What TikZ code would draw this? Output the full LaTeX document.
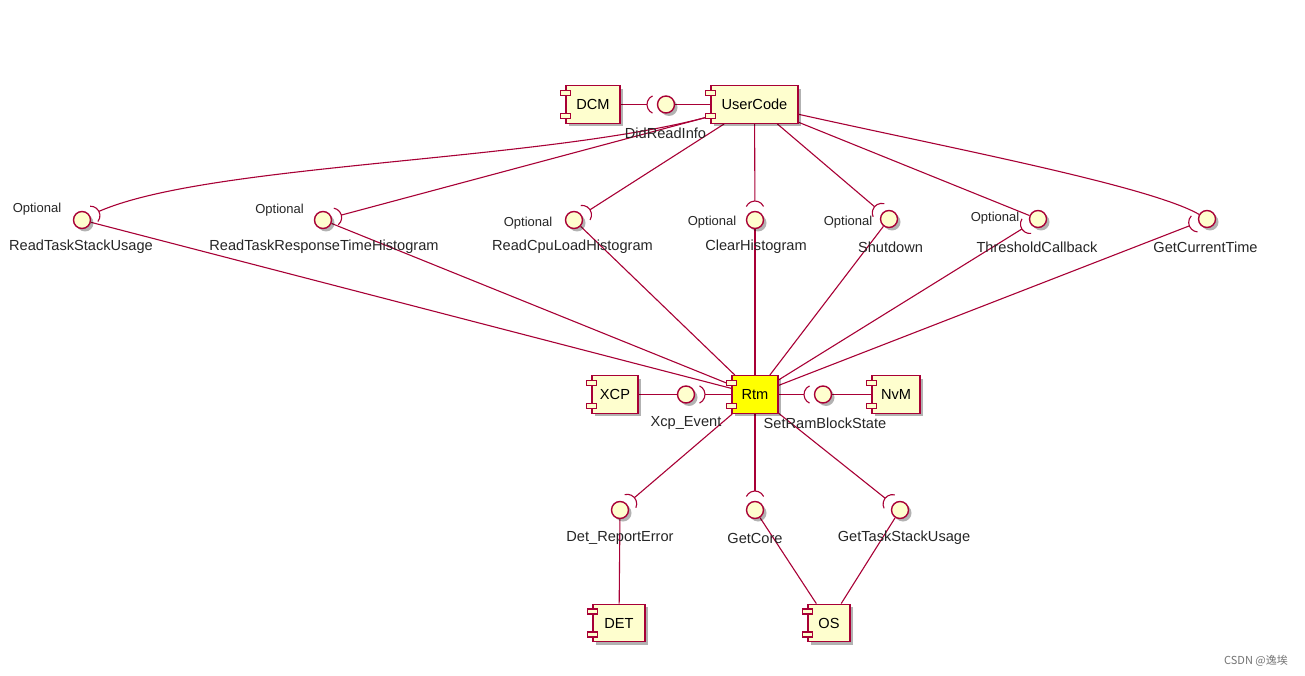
\documentclass[tikz,border=0pt]{standalone}
\usepackage{fontspec}
\setmainfont{Liberation Sans}
\newfontfamily\cjkfont{Noto Sans CJK SC}
\usetikzlibrary{calc,shadows}
\pgfdeclarelayer{background}
\pgfsetlayers{background,main}
\definecolor{pline}{HTML}{A80036}
\definecolor{pfill}{HTML}{FEFECE}
\definecolor{rtmfill}{HTML}{FFFF00}
\tikzset{
  shad/.style={drop shadow={shadow xshift=3pt,shadow yshift=-3pt,opacity=0.3,fill=black}},
  comp/.style={draw=pline,line width=1.4pt,fill=pfill,rectangle,inner sep=0pt,minimum height=37.5pt,font=\fontsize{14.6}{17}\selectfont,shad},
  portbox/.style={draw=pline,line width=1.2pt,fill=pfill},
  ball/.style={circle,draw=pline,line width=1.4pt,fill=pfill,minimum size=17pt,inner sep=0pt,shad},
  link/.style={draw=pline,line width=1.1pt},
  lbl/.style={inner sep=0pt,text=black!85,font=\fontsize{14.6}{17}\selectfont},
  opt/.style={inner sep=0pt,text=black!85,font=\fontsize{13}{15}\selectfont},
}
\newcommand\compbox[6]{%
  \node[comp,fill=#6,minimum width=#4pt] (#1) at (#2,#3) {#5};
  \draw[portbox] ([xshift=-5pt,yshift=-5.5pt]#1.north west) rectangle ++(10pt,-5pt);
  \draw[portbox] ([xshift=-5pt,yshift=5.5pt]#1.south west) rectangle ++(10pt,5pt);
}
\newcommand\sock[3]{%
  \draw[link] let \p1=(#1.center), \p2=(#2), \n1={atan2(\y2-\y1,\x2-\x1)} in
    ($(\p1)+(\n1:19pt)$) coordinate (#3)
    ($(\p1)+(\n1:9.5pt)+({\n1-65}:9.5pt)$) arc[start angle={\n1-65},end angle={\n1+65},radius=9.5pt];
}
\begin{document}
\begin{tikzpicture}[x=1pt,y=-1pt]
\useasboundingbox (0,0) rectangle (1305,676);

% components
\compbox{dcm}{593}{104.5}{54}{DCM}{pfill}
\compbox{uc}{754.5}{104.5}{87}{UserCode}{pfill}
\compbox{rtm}{755}{394.5}{46}{Rtm}{rtmfill}
\compbox{xcp}{615}{394.5}{46}{XCP}{pfill}
\compbox{nvm}{896}{394.5}{48}{NvM}{pfill}
\compbox{det}{619}{623}{52}{DET}{pfill}
\compbox{os}{829}{623}{42}{OS}{pfill}

% interface balls
\node[ball] (d0) at (666,104.5) {};
\node[ball] (b1) at (82,220) {};
\node[ball] (b2) at (323,220) {};
\node[ball] (b3) at (574,220) {};
\node[ball] (b4) at (755,220) {};
\node[ball] (b5) at (889,219) {};
\node[ball] (b6) at (1038,219) {};
\node[ball] (b7) at (1207,219) {};
\node[ball] (bx) at (686,394.5) {};
\node[ball] (bn) at (823,394.5) {};
\node[ball] (bd) at (620,510) {};
\node[ball] (bc) at (755,510) {};
\node[ball] (bt) at (900,510) {};

% labels
\node[lbl] (l0) at (665.5,133) {DidReadInfo};
\node[lbl] (l1) at (81,247) {ReadTaskStackUsage};
\node[lbl] (l2) at (324,247) {ReadTaskResponseTimeHistogram};
\node[lbl] (l3) at (572.5,247) {ReadCpuLoadHistogram};
\node[lbl] (l4) at (756,247) {ClearHistogram};
\node[lbl] (l5) at (890.5,247) {Shutdown};
\node[lbl] (l6) at (1037,247) {ThresholdCallback};
\node[lbl] (l7) at (1205.5,247) {GetCurrentTime};
\node[lbl] (lx) at (686,423) {Xcp\_Event};
\node[lbl] (ln) at (825,423) {SetRamBlockState};
\node[lbl] (ld) at (620,538) {Det\_ReportError};
\node[lbl] (lc) at (755,538) {GetCore};
\node[lbl] (lt) at (904,538) {GetTaskStackUsage};

\node[opt] (o1) at (37,209) {Optional};
\node[opt] (o2) at (279.5,210) {Optional};
\node[opt] (o3) at (528,223) {Optional};
\node[opt] (o4) at (712,222) {Optional};
\node[opt] (o5) at (848,222) {Optional};
\node[opt] (o6) at (995,218.5) {Optional};

\node[inner sep=0pt,text=black!55,font=\cjkfont\fontsize{11}{13}\selectfont] (wm) at (1256,661) {CSDN @逸埃};

% sockets
\sock{d0}{dcm.center}{s0}
\sock{b1}{200,160}{s1}
\sock{b2}{uc.center}{s2}
\sock{b3}{uc.center}{s3}
\sock{b4}{uc.center}{s4}
\sock{b5}{uc.center}{s5}
\sock{b6}{rtm.center}{s6}
\sock{b7}{rtm.center}{s7}
\sock{bx}{rtm.center}{sx}
\sock{bn}{rtm.center}{sn}
\sock{bd}{rtm.center}{sd}
\sock{bc}{rtm.center}{sc}
\sock{bt}{rtm.center}{st}

\begin{pgfonlayer}{background}
\fill[white] (0,0) rectangle (1305,676);
\draw[link] (dcm) -- (s0);
\draw[link] (d0) -- (uc);
\draw[link] (s1) .. controls (210,163) and (540,162) .. (uc);
\draw[link] (s2) -- (uc);
\draw[link] (s3) -- (uc);
\draw[link] (s4) -- (uc);
\draw[link] (s5) -- (uc);
\draw[link] (uc) -- (b6);
\draw[link] (uc) .. controls (950,148) and (1150,186) .. (b7);
\draw[link] (b1) -- (rtm);
\draw[link] (b2) -- (rtm);
\draw[link] (b3) -- (rtm);
\draw[link] (b4) -- (rtm);
\draw[link] (b5) -- (rtm);
\draw[link] (s6) -- (rtm);
\draw[link] (s7) -- (rtm);
\draw[link] (xcp) -- (bx);
\draw[link] (sx) -- (rtm);
\draw[link] (nvm) -- (bn);
\draw[link] (sn) -- (rtm);
\draw[link] (sd) -- (rtm);
\draw[link] (sc) -- (rtm);
\draw[link] (st) -- (rtm);
\draw[link] (bd) -- (det);
\draw[link] (bc) -- (os);
\draw[link] (bt) -- (os);
\end{pgfonlayer}
\end{tikzpicture}
\end{document}
